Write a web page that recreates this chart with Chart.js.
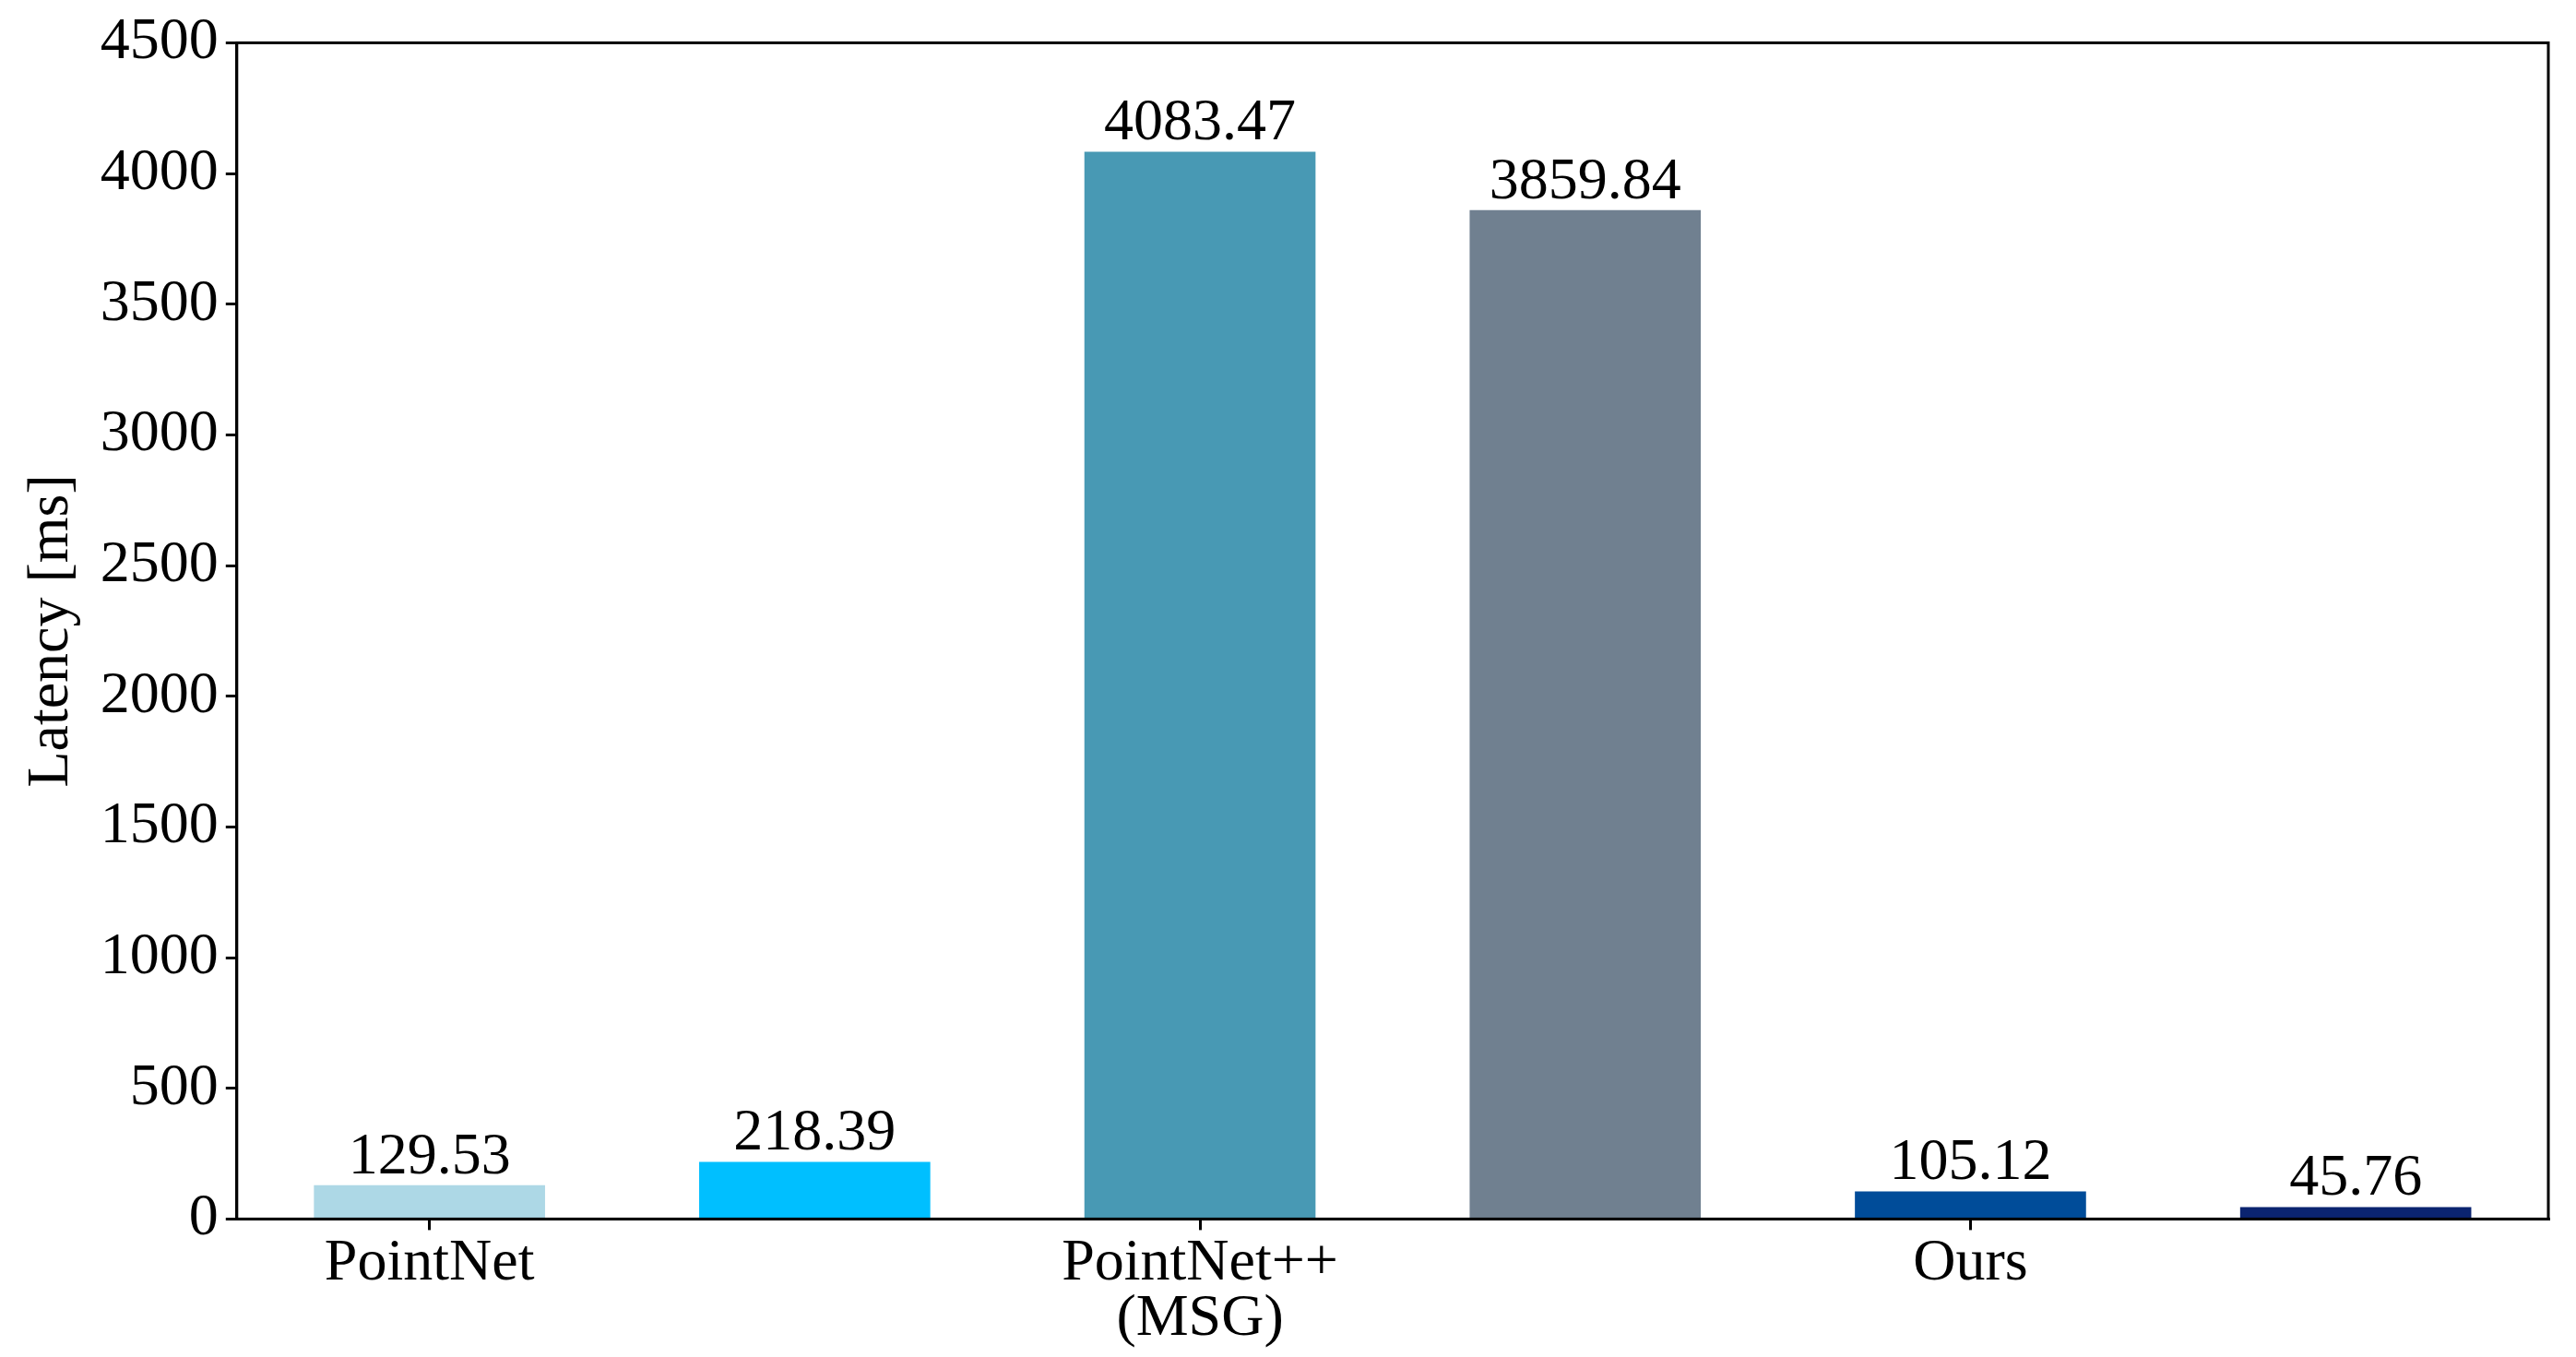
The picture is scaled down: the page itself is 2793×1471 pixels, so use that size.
<!DOCTYPE html>
<html><head><meta charset="utf-8">
<script src="https://cdn.jsdelivr.net/npm/chart.js@4"></script>
<style>body{margin:0;background:#fff}#wrap{width:2793px;height:1471px}</style>
</head><body><div id="wrap"><canvas id="c"></canvas></div>
<script>
const categories = ['PointNet', "Lin'20", ['PointNet++','(MSG)'], ['PointNet++','(SSG)'], 'Ours', ['Ours','(Auto-scheduler)']];
const latency = [129.53, 218.39, 4083.47, 3859.84, 105.12, 45.76];
const colors = ['#ADD8E6', '#00BFFF', '#4899B4', '#708090', '#004C99', '#0B2470'];
const yTicks = [0, 500, 1000, 1500, 2000, 2500, 3000, 3500, 4000, 4500];

const FONT = "'Liberation Serif', 'DejaVu Serif', serif";

// frame around plot + value labels above bars
const extras = {
  id: 'extras',
  afterDatasetsDraw(chart) {
    const {ctx, chartArea: a} = chart;
    ctx.save();
    ctx.strokeStyle = '#000'; ctx.lineWidth = 3;
    ctx.strokeRect(a.left, a.top, a.right - a.left, a.bottom - a.top);
    ctx.fillStyle = '#000';
    ctx.font = '64px ' + FONT;
    ctx.textAlign = 'center'; ctx.textBaseline = 'bottom';
    chart.getDatasetMeta(0).data.forEach((b, i) => {
      ctx.fillText(latency[i].toFixed(2), b.x, b.y + 2);
    });
    ctx.restore();
  }
};

new Chart(document.getElementById('c'), {
  type: 'bar',
  data: { labels: categories, datasets: [{ data: latency, backgroundColor: colors, barPercentage: 0.6, categoryPercentage: 1 }] },
  options: {
    responsive: true, maintainAspectRatio: false, animation: false,
    layout: { padding: { top: 36, right: 30, left: 12, bottom: 4 } },
    plugins: { legend: { display: false }, tooltip: { enabled: false } },
    scales: {
      x: {
        grid: { drawOnChartArea: false, offset: false, color: '#000', tickLength: 12, lineWidth: 3 },
        border: { color: '#000', width: 3 },
        ticks: { color: '#000', font: { family: FONT, size: 64, lineHeight: 0.95 }, padding: 6, maxRotation: 0 }
      },
      y: {
        min: 0, max: 4500,
        afterBuildTicks: s => { s.ticks = yTicks.map(v => ({ value: v })); },
        grid: { drawOnChartArea: false, color: '#000', tickLength: 12, lineWidth: 3 },
        border: { color: '#000', width: 3 },
        ticks: { color: '#000', font: { family: FONT, size: 64 }, padding: 8, callback: v => String(v) },
        title: { display: true, text: 'Latency [ms]', color: '#000', font: { family: FONT, size: 64 }, padding: 6 }
      }
    }
  },
  plugins: [extras]
});
</script></body></html>
